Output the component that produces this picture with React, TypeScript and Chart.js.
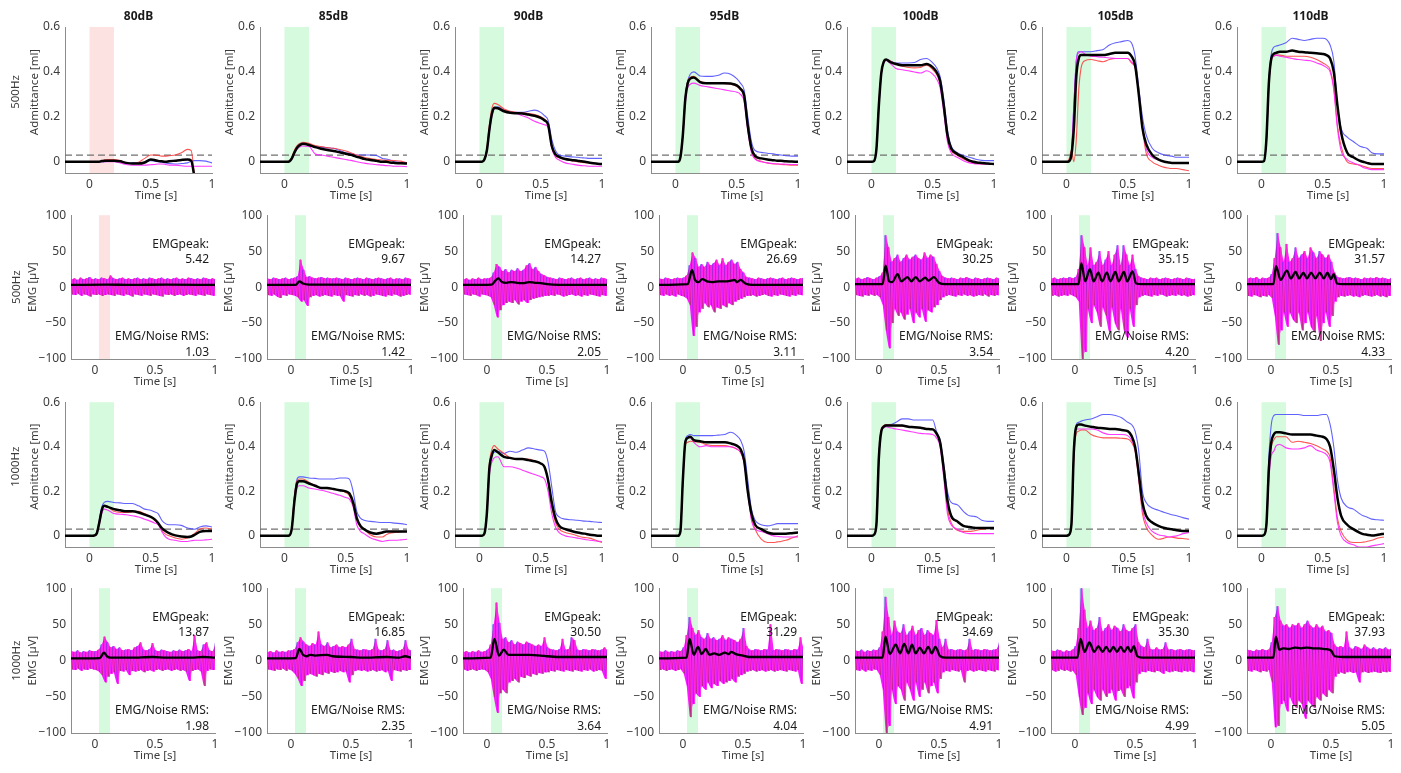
import { useEffect, useRef } from 'react'
import { Chart, registerables } from 'chart.js'

Chart.register(...registerables)
Chart.defaults.font.family = '"Noto Sans", sans-serif'

const levels = ['80dB', '85dB', '90dB', '95dB', '100dB', '105dB', '110dB']
const freqs = ['500Hz', '1000Hz']

// admittance time grid [s]
const admT = [-0.2, 0, 0.02, 0.04, 0.06, 0.08, 0.1, 0.12, 0.15, 0.2, 0.25, 0.3, 0.35, 0.4, 0.45, 0.5, 0.53, 0.56, 0.59, 0.62, 0.65, 0.7, 0.75, 0.8, 0.83, 0.86, 0.9, 0.95, 1]

// 500Hz admittance [ml], one row per level
const adm500Blue = [
  [0,0,0,0,0,0,0,0,0.002,0.003, 0.004,-0.008,-0.005,-0.005,-0.002,0.005,0.003,0,-0.002,-0.005, -0.008,-0.01,-0.008,-0.005,0.002,0.005,0.005,0.003,-0.005],
  [0,0,0,0.002,0.015,0.04,0.06,0.072,0.08,0.075, 0.068,0.065,0.062,0.06,0.05,0.04,0.037,0.035,0.03,0.03, 0.03,0.03,0.028,0.015,0.012,0.008,0,-0.002,-0.005],
  [0,0,0,0.01,0.05,0.14,0.21,0.24,0.245,0.23, 0.22,0.22,0.22,0.225,0.23,0.22,0.205,0.185,0.1,0.05, 0.03,0.025,0.022,0.02,0.018,0.017,0.015,0.015,0.015],
  [0,0,0,0.02,0.12,0.29,0.36,0.39,0.4,0.382, 0.38,0.38,0.385,0.395,0.39,0.37,0.35,0.32,0.2,0.09, 0.05,0.042,0.038,0.035,0.032,0.03,0.027,0.025,0.025],
  [0,0,0.003,0.05,0.24,0.39,0.44,0.455,0.45,0.44, 0.44,0.44,0.442,0.455,0.46,0.44,0.42,0.38,0.28,0.14, 0.07,0.04,0.028,0.02,0.015,0.01,0.006,0.005,0.005],
  [0,0,0.002,0.04,0.25,0.45,0.49,0.49,0.49,0.49, 0.495,0.5,0.52,0.53,0.535,0.54,0.53,0.47,0.33,0.2, 0.12,0.06,0.04,0.03,0.027,0.025,0.02,0.02,0.02],
  [0,0,0.003,0.1,0.36,0.48,0.51,0.515,0.52,0.53, 0.55,0.545,0.54,0.545,0.55,0.55,0.545,0.52,0.45,0.25, 0.15,0.11,0.09,0.07,0.065,0.06,0.04,0.035,0.035],
]
const adm500Red = [
  [0,0,0,0,0,0.002,0.005,0.008,0.01,0.01, 0.005,-0.005,-0.008,-0.002,0.015,0.03,0.03,0.028,0.025,0.025, 0.027,0.03,0.04,0.055,0.05,-0.08,null,null,null],
  [0,0,0,0.003,0.02,0.05,0.07,0.08,0.087,0.082, 0.072,0.068,0.063,0.06,0.055,0.048,0.042,0.036,0.03,0.025, 0.02,0.014,0.01,0.008,0.006,0.006,0.005,0.003,-0.005],
  [0,0,0,0.012,0.06,0.16,0.235,0.26,0.255,0.235, 0.225,0.22,0.218,0.215,0.21,0.2,0.19,0.17,0.07,0.025, 0.018,0.01,0.005,0,-0.002,-0.004,-0.005,-0.008,-0.01],
  [0,0,0,0.02,0.12,0.29,0.36,0.375,0.38,0.358, 0.352,0.35,0.35,0.348,0.345,0.335,0.32,0.29,0.15,0.05, 0.015,0.002,-0.005,-0.01,-0.01,-0.012,-0.013,-0.015,-0.015],
  [0,0,0.004,0.06,0.26,0.4,0.445,0.455,0.45,0.435, 0.425,0.42,0.418,0.42,0.43,0.41,0.39,0.35,0.24,0.1, 0.05,0.03,0.012,0,-0.005,-0.008,-0.01,-0.01,-0.01],
  [0,0,0.01,0.05,0,0.1,0.32,0.42,0.45,0.455, 0.45,0.445,0.455,0.46,0.46,0.46,0.44,0.42,0.3,0.15, 0.04,0,-0.015,-0.025,-0.028,-0.03,-0.03,-0.035,-0.04],
  [0,0,0.003,0.09,0.34,0.45,0.47,0.475,0.475,0.47, 0.47,0.47,0.47,0.465,0.455,0.44,0.43,0.41,0.33,0.16, 0.07,0,-0.01,-0.015,-0.02,-0.025,-0.03,-0.03,-0.03],
]
const adm500Mag = [
  [0,0,0,0,0,0,0,0,0,0, -0.005,-0.012,-0.015,-0.015,-0.015,-0.013,-0.012,-0.01,-0.01,-0.012, -0.015,-0.015,-0.018,-0.02,-0.02,-0.02,-0.02,-0.02,-0.02],
  [0,0,0,0.001,0.01,0.035,0.055,0.065,0.07,0.068, 0.035,0.03,0.025,0.02,0.015,0.01,0.007,0.004,0,-0.003, -0.006,-0.01,-0.013,-0.015,-0.017,-0.018,-0.02,-0.02,-0.022],
  [0,0,0,0.008,0.045,0.13,0.2,0.235,0.24,0.225, 0.22,0.215,0.205,0.195,0.18,0.17,0.165,0.155,0.06,0.02, 0.008,-0.005,-0.01,-0.015,-0.017,-0.018,-0.02,-0.02,-0.02],
  [0,0,0,0.018,0.11,0.26,0.33,0.345,0.35,0.34, 0.335,0.33,0.325,0.32,0.315,0.31,0.3,0.27,0.14,0.04, 0.012,0,-0.005,-0.008,-0.01,-0.01,-0.011,-0.012,-0.012],
  [0,0,0.003,0.055,0.25,0.39,0.44,0.45,0.44,0.415, 0.41,0.405,0.4,0.395,0.405,0.39,0.37,0.33,0.22,0.09, 0.04,0.02,0.005,-0.005,-0.008,-0.01,-0.01,-0.01,-0.01],
  [0,0,0.002,0.04,0.25,0.45,0.485,0.49,0.48,0.47, 0.468,0.465,0.462,0.46,0.46,0.46,0.445,0.42,0.3,0.16, 0.06,0.02,0.008,0,-0.003,-0.005,-0.005,-0.007,-0.008],
  [0,0,0.003,0.09,0.34,0.455,0.47,0.475,0.47,0.465, 0.46,0.455,0.452,0.45,0.44,0.43,0.42,0.4,0.32,0.15, 0.05,0.01,-0.005,-0.015,-0.025,-0.03,-0.035,-0.035,-0.035],
]
const adm500Mean = [
  [0,0,0,0,0,0,0.003,0.004,0.005,0.005, 0.002,-0.005,-0.008,-0.008,-0.003,0.01,0.008,0.004,0.002,0, 0.002,0.005,0.008,0.01,0.005,-0.08,null,null,null],
  [0,0,0,0.002,0.015,0.04,0.06,0.072,0.08,0.075, 0.065,0.058,0.052,0.048,0.042,0.036,0.032,0.028,0.022,0.018, 0.013,0.008,0.004,0,0,-0.003,-0.005,-0.007,-0.008],
  [0,0,0,0.01,0.05,0.14,0.21,0.24,0.238,0.225, 0.218,0.216,0.215,0.21,0.205,0.195,0.185,0.165,0.07,0.033, 0.022,0.012,0.008,0.005,0.002,0,-0.004,-0.008,-0.01],
  [0,0,0,0.02,0.12,0.28,0.35,0.37,0.375,0.355, 0.35,0.35,0.35,0.35,0.348,0.34,0.325,0.295,0.16,0.06, 0.025,0.015,0.01,0.007,0.005,0.004,0.002,0.001,0],
  [0,0,0.003,0.055,0.25,0.395,0.445,0.455,0.445,0.435, 0.43,0.43,0.43,0.43,0.435,0.42,0.4,0.36,0.25,0.12, 0.06,0.035,0.02,0.005,0,-0.003,-0.005,-0.008,-0.01],
  [0,0,0.002,0.03,0.15,0.38,0.46,0.475,0.475,0.475, 0.475,0.475,0.48,0.485,0.485,0.485,0.47,0.43,0.3,0.15, 0.08,0.03,0.01,0,-0.003,-0.005,-0.005,-0.005,-0.005],
  [0,0,0.003,0.1,0.35,0.46,0.48,0.485,0.49,0.49, 0.495,0.49,0.488,0.485,0.483,0.48,0.475,0.46,0.4,0.25, 0.13,0.04,0.02,0.005,0,-0.005,-0.01,-0.01,-0.01],
]

// 1000Hz admittance [ml]
const adm1000Blue = [
  [0,0,0,0.002,0.015,0.07,0.13,0.15,0.155,0.15, 0.148,0.145,0.145,0.135,0.12,0.115,0.108,0.1,0.07,0.055, 0.05,0.05,0.047,0.035,0.032,0.03,0.04,0.045,0.04],
  [0,0,0,0.002,0.04,0.17,0.25,0.265,0.265,0.26, 0.258,0.255,0.255,0.255,0.26,0.26,0.255,0.2,0.11,0.08, 0.07,0.065,0.062,0.06,0.06,0.06,0.057,0.055,0.05],
  [0,0,0,0.01,0.1,0.3,0.36,0.375,0.38,0.37, 0.38,0.375,0.385,0.395,0.39,0.385,0.38,0.33,0.22,0.11, 0.085,0.075,0.072,0.07,0.068,0.066,0.065,0.062,0.06],
  [0,0,0,0.02,0.25,0.43,0.45,0.455,0.45,0.45, 0.45,0.45,0.452,0.455,0.465,0.45,0.43,0.38,0.25,0.12, 0.07,0.05,0.045,0.05,0.055,0.055,0.055,0.055,0.055],
  [0,0,0.005,0.05,0.35,0.47,0.49,0.5,0.5,0.51, 0.525,0.525,0.52,0.52,0.52,0.52,0.47,0.43,0.32,0.2, 0.15,0.14,0.11,0.09,0.088,0.085,0.07,0.065,0.065],
  [0,0,0.005,0.05,0.38,0.5,0.51,0.515,0.52,0.525, 0.535,0.545,0.545,0.54,0.53,0.51,0.5,0.47,0.38,0.2, 0.15,0.125,0.115,0.105,0.1,0.095,0.09,0.082,0.075],
  [0,0,0.005,0.05,0.35,0.5,0.54,0.545,0.545,0.545, 0.545,0.545,0.54,0.54,0.54,0.545,0.545,0.5,0.4,0.25, 0.17,0.13,0.12,0.1,0.09,0.085,0.075,0.072,0.07],
]
const adm1000Red = [
  [0,0,0,0.002,0.012,0.06,0.115,0.135,0.13,0.11, 0.105,0.105,0.108,0.11,0.1,0.085,0.07,0.055,0.025,0.008, 0,-0.01,-0.015,-0.01,0,0.012,0.03,0.035,0.03],
  [0,0,0,0.002,0.04,0.17,0.245,0.255,0.255,0.24, 0.225,0.215,0.212,0.21,0.205,0.195,0.18,0.14,0.07,0.04, 0.03,0.005,-0.005,-0.005,0.005,0.012,0.015,0.018,0.02],
  [0,0,0,0.012,0.11,0.32,0.385,0.405,0.39,0.37, 0.35,0.345,0.345,0.345,0.335,0.325,0.31,0.25,0.13,0.06, 0.03,0.015,0.008,0,-0.005,-0.008,-0.01,-0.02,-0.03],
  [0,0,0,0.02,0.24,0.41,0.42,0.425,0.422,0.42, 0.41,0.405,0.405,0.405,0.4,0.39,0.375,0.33,0.2,0.08, 0.03,-0.015,-0.03,-0.03,-0.027,-0.025,-0.02,-0.01,0],
  [0,0,0.005,0.05,0.35,0.48,0.495,0.5,0.498,0.495, 0.492,0.49,0.487,0.485,0.482,0.48,0.46,0.41,0.28,0.12, 0.06,0.025,0.02,0.02,0.022,0.025,0.03,0.033,0.035],
  [0,0,0.005,0.04,0.35,0.46,0.47,0.475,0.475,0.455, 0.445,0.44,0.44,0.44,0.438,0.435,0.42,0.38,0.25,0.1, 0.04,0.002,-0.015,-0.01,-0.005,-0.006,-0.01,-0.012,-0.015],
  [0,0,0.004,0.04,0.28,0.4,0.43,0.445,0.445,0.445, 0.42,0.425,0.42,0.415,0.405,0.39,0.38,0.35,0.22,0.08, 0.02,-0.02,-0.03,-0.03,-0.028,-0.025,-0.02,-0.01,-0.005],
]
const adm1000Mag = [
  [0,0,0,0.001,0.01,0.05,0.1,0.12,0.115,0.1, 0.097,0.095,0.09,0.085,0.075,0.065,0.058,0.05,0.02,-0.005, -0.015,-0.02,-0.025,-0.025,-0.022,-0.02,-0.02,-0.018,-0.015],
  [0,0,0,0.001,0.035,0.15,0.215,0.225,0.225,0.215, 0.21,0.205,0.198,0.19,0.182,0.172,0.165,0.13,0.05,0.02, 0.01,-0.008,-0.018,-0.025,-0.022,-0.02,-0.02,-0.018,-0.015],
  [0,0,0,0.008,0.09,0.27,0.33,0.35,0.355,0.31, 0.31,0.305,0.295,0.285,0.275,0.265,0.255,0.2,0.1,0.04, 0.015,0,-0.005,-0.01,-0.013,-0.016,-0.02,-0.023,-0.025],
  [0,0,0,0.02,0.25,0.42,0.44,0.44,0.42,0.4, 0.405,0.4,0.4,0.4,0.4,0.39,0.375,0.33,0.2,0.07, 0.03,0.02,0.01,0,-0.002,-0.004,-0.005,-0.005,-0.005],
  [0,0,0.005,0.05,0.34,0.47,0.485,0.49,0.485,0.48, 0.475,0.47,0.465,0.46,0.458,0.455,0.44,0.4,0.26,0.1, 0.05,0.03,0.015,0.01,0.01,0.01,0.01,0.01,0.01],
  [0,0,0.005,0.045,0.37,0.48,0.48,0.48,0.48,0.48, 0.475,0.462,0.455,0.455,0.455,0.45,0.43,0.39,0.26,0.12, 0.06,0.02,0.005,0,-0.005,-0.003,0,0.01,0.015],
  [0,0,0.004,0.04,0.25,0.36,0.38,0.405,0.41,0.395, 0.39,0.39,0.395,0.405,0.385,0.375,0.365,0.33,0.2,0.06, 0,-0.03,-0.04,-0.05,-0.05,-0.05,-0.045,-0.04,-0.035],
]
const adm1000Mean = [
  [0,0,0,0.002,0.012,0.06,0.115,0.135,0.13,0.12, 0.115,0.11,0.11,0.105,0.095,0.085,0.075,0.058,0.035,0.022, 0.012,0.002,-0.003,-0.005,-0.003,0.005,0.018,0.022,0.022],
  [0,0,0,0.002,0.035,0.15,0.23,0.245,0.245,0.235, 0.225,0.215,0.215,0.21,0.205,0.2,0.19,0.15,0.08,0.045, 0.03,0.015,0.01,0.015,0.02,0.02,0.02,0.02,0.02],
  [0,0,0,0.01,0.1,0.3,0.36,0.385,0.375,0.355, 0.35,0.345,0.345,0.34,0.335,0.325,0.31,0.25,0.15,0.08, 0.045,0.03,0.022,0.015,0.012,0.01,0.005,0.002,0],
  [0,0,0,0.02,0.25,0.42,0.44,0.445,0.43,0.425, 0.42,0.42,0.42,0.42,0.415,0.405,0.39,0.34,0.2,0.1, 0.05,0.03,0.015,0.01,0.01,0.01,0.01,0.012,0.015],
  [0,0,0.005,0.05,0.35,0.47,0.49,0.495,0.495,0.495, 0.495,0.49,0.488,0.485,0.48,0.478,0.46,0.42,0.3,0.16, 0.09,0.065,0.045,0.04,0.037,0.035,0.035,0.035,0.035],
  [0,0,0.005,0.05,0.38,0.49,0.5,0.5,0.495,0.49, 0.485,0.483,0.48,0.48,0.475,0.47,0.45,0.4,0.28,0.15, 0.09,0.06,0.045,0.035,0.032,0.03,0.025,0.022,0.022],
  [0,0,0.004,0.05,0.3,0.42,0.455,0.465,0.465,0.46, 0.455,0.455,0.455,0.455,0.45,0.445,0.435,0.4,0.3,0.17, 0.09,0.05,0.03,0.015,0.008,0.005,0.002,0.005,0.01],
]

// EMG envelope time grid [s]
const emgT = [-0.2,-0.175,-0.15,-0.125,-0.1,-0.075,-0.05,-0.025, 0,0.025,0.05,0.075,0.1,0.125,0.15,0.175, 0.2,0.225,0.25,0.275,0.3,0.325,0.35,0.375, 0.4,0.425,0.45,0.475,0.5,0.525,0.55,0.575, 0.6,0.625,0.65,0.675,0.7,0.725,0.75,0.775, 0.8,0.825,0.85,0.875,0.9,0.925,0.95,0.975,1]

// 500Hz EMG upper / lower envelope [µV]
const emg500Up = [
  [11,12,10,13,11,12,14,11, 12,11,13,12,11,16,12,11, 12,13,11,12,11,12,13,11, 12,11,13,12,11,12,13,11, 12,11,12,13,11,12,11,13, 12,11,12,11,13,12,11,12,11],
  [12,11,13,12,11,12,13,11, 12,13,15,38,24,14,15,13, 12,13,14,12,13,12,12,13, 12,11,13,12,11,12,13,12, 11,13,12,11,12,13,12,11, 12,13,11,12,12,11,13,12,11],
  [11,12,10,12,11,13,11,12, 12,13,20,32,28,22,25,20, 24,22,26,22,24,30,33,25, 28,22,18,16,14,13,12,11, 13,12,11,12,13,11,12,13, 11,12,13,11,12,11,13,12,11],
  [12,11,13,12,11,12,13,12, 13,16,30,48,40,28,32,28, 35,30,33,38,30,40,30,35, 38,32,35,25,20,14,13,12, 11,13,12,11,12,13,12,11, 12,13,11,12,13,12,11,12,13],
  [12,13,11,12,14,12,11,13, 15,20,72,55,35,40,45,35, 40,45,38,42,45,40,38,48, 40,45,42,32,22,15,13,12, 13,12,11,13,12,14,12,11, 13,12,11,12,13,12,11,13,12],
  [12,13,11,12,13,12,14,12, 14,25,72,55,30,55,30,35, 50,30,38,50,30,45,58,30, 58,45,30,45,25,15,13,12, 11,13,12,13,11,12,13,12, 11,12,13,12,11,13,12,11,12],
  [12,13,12,14,11,13,12,13, 18,40,75,55,35,60,35,40, 55,40,45,50,40,55,48,40, 50,45,40,45,35,20,14,13, 12,13,14,12,13,12,11,13, 12,13,12,14,12,13,12,11,13],
]
const emg500Lo = [
  [-10,-11,-9,-12,-10,-11,-13,-10, -11,-10,-12,-11,-10,-11,-12,-10, -11,-12,-10,-11,-13,-10,-11,-12, -10,-11,-12,-10,-11,-12,-13,-10, -11,-10,-12,-11,-10,-12,-11,-10, -11,-12,-10,-11,-12,-10,-11,-12,-10],
  [-11,-12,-10,-13,-15,-11,-12,-10, -11,-12,-14,-20,-18,-26,-14,-12, -11,-13,-12,-11,-12,-13,-11,-12, -12,-20,-11,-12,-13,-11,-12,-10, -12,-11,-13,-12,-10,-11,-12,-13, -11,-12,-10,-11,-13,-12,-11,-10,-11],
  [-10,-11,-12,-10,-11,-13,-10,-11, -12,-14,-25,-42,-32,-25,-22,-20, -22,-18,-24,-20,-18,-22,-18,-16, -15,-14,-13,-12,-12,-11,-12,-10, -11,-13,-12,-11,-10,-12,-11,-13, -11,-12,-10,-11,-12,-13,-11,-12,-10],
  [-11,-12,-10,-12,-11,-13,-10,-12, -13,-16,-25,-68,-55,-35,-30,-22, -28,-25,-35,-28,-30,-25,-28,-22, -25,-20,-18,-16,-14,-12,-12,-11, -13,-12,-11,-10,-12,-13,-11,-12, -10,-11,-12,-13,-11,-12,-10,-11,-12],
  [-11,-12,-13,-11,-12,-10,-12,-11, -14,-25,-60,-85,-50,-30,-40,-35, -45,-38,-30,-50,-35,-42,-30,-48, -32,-35,-28,-25,-18,-14,-12,-11, -12,-13,-11,-12,-10,-12,-11,-13, -12,-11,-12,-10,-13,-11,-12,-11,-12],
  [-12,-11,-13,-12,-11,-12,-10,-12, -14,-20,-100,-90,-30,-50,-25,-35, -55,-28,-40,-62,-28,-50,-60,-30, -60,-70,-30,-55,-25,-14,-12,-11, -12,-13,-11,-12,-10,-11,-13,-12, -11,-12,-10,-12,-11,-13,-12,-11,-12],
  [-12,-13,-11,-12,-14,-12,-13,-11, -15,-40,-80,-60,-35,-55,-35,-45, -50,-35,-60,-50,-35,-55,-62,-40, -75,-50,-35,-55,-40,-20,-14,-12, -13,-12,-11,-13,-12,-14,-12,-11, -12,-13,-12,-11,-13,-12,-14,-12,-11],
]
// 500Hz EMG mean trace, [t, µV]
const emg500Mean = [
  [[-0.2,3],[0.1,3.5],[0.3,3],[0.6,3.5],[1,3]],
  [[-0.2,3],[0.04,3],[0.07,8],[0.1,5],[0.15,3.5],[1,3]],
  [[-0.2,3],[0.04,3.5],[0.07,9],[0.095,12],[0.125,7],[0.16,6],[0.2,7],[0.25,6],[0.3,5.5],[0.35,7],[0.4,6],[0.45,5.5],[0.5,4],[0.6,3],[1,3]],
  [[-0.2,3],[0.04,4],[0.075,24],[0.1,10],[0.13,7],[0.16,11],[0.2,8],[0.25,7],[0.3,8],[0.35,8],[0.4,9],[0.43,10],[0.45,7],[0.48,10],[0.52,5],[0.6,3],[1,3]],
  [[-0.2,4],[0.03,4],[0.055,30],[0.085,8],[0.11,7],[0.155,18],[0.185,8],[0.237,14],[0.27,8],[0.306,14],[0.34,8],[0.385,13],[0.415,9],[0.457,14],[0.5,6],[0.55,4],[1,4]],
  [[-0.2,4],[0.03,4],[0.053,33],[0.085,8],[0.124,25],[0.155,8],[0.195,20],[0.225,8],[0.266,20],[0.295,8],[0.337,21],[0.365,8],[0.408,21],[0.435,8],[0.479,22],[0.51,5],[0.56,4],[1,4]],
  [[-0.2,4],[0.02,4],[0.042,29],[0.08,10],[0.133,23],[0.165,12],[0.205,21],[0.235,12],[0.27,20],[0.3,12],[0.334,20],[0.37,12],[0.406,20],[0.44,12],[0.47,20],[0.5,11],[0.523,18],[0.55,5],[0.6,4],[1,4]],
]
const emg500Peak = [5.42, 9.67, 14.27, 26.69, 30.25, 35.15, 31.57]
const emg500Rms = [1.03, 1.42, 2.05, 3.11, 3.54, 4.2, 4.33]

// 1000Hz EMG upper / lower envelope [µV]
const emg1000Up = [
  [13,12,14,11,13,12,14,13, 13,15,22,33,25,18,20,16, 18,14,15,16,14,18,20,25, 15,14,16,24,14,13,15,14, 13,12,14,13,15,13,14,16, 13,35,14,13,22,25,14,13,24],
  [12,13,11,14,12,13,12,14, 14,16,25,32,26,22,20,24, 22,40,22,20,25,18,20,22, 18,20,18,22,30,16,15,14, 16,15,14,16,30,15,14,16, 28,14,15,13,14,16,28,15,14],
  [12,13,11,13,12,14,12,13, 15,22,50,80,52,30,32,25, 28,22,26,24,22,26,24,22, 20,22,20,32,18,16,15,14, 16,30,15,16,32,28,15,14, 16,15,14,16,15,14,15,18,14],
  [13,12,14,12,13,12,14,13, 18,35,60,45,35,42,32,30, 38,30,32,28,30,35,28,32, 30,28,25,30,45,20,15,14, 16,15,14,16,15,50,14,16, 15,14,16,15,14,16,15,32,15],
  [14,13,15,12,14,13,15,14, 18,40,88,60,35,55,40,38, 50,35,40,48,35,42,45,35, 42,38,35,56,30,18,30,15, 16,14,15,16,14,15,30,14, 16,15,14,16,15,14,15,16,25],
  [14,13,15,14,12,14,13,15, 20,45,100,70,45,55,42,45, 60,40,45,50,42,48,45,40, 50,42,40,45,50,25,20,18, 30,16,15,18,15,16,25,15, 16,14,15,16,14,15,16,14,15],
  [15,14,13,15,14,16,14,15, 25,60,75,55,48,50,45,50, 48,52,45,50,55,48,45,50, 45,48,40,42,38,22,18,20, 18,40,18,16,20,18,16,22, 18,16,18,15,17,16,18,15,17],
]
const emg1000Lo = [
  [-12,-13,-11,-14,-12,-13,-11,-12, -13,-15,-20,-30,-22,-18,-16,-32, -14,-15,-13,-20,-14,-15,-14,-13, -16,-14,-13,-15,-13,-12,-14,-13, -12,-14,-13,-12,-14,-13,-15,-28, -14,-13,-12,-15,-35,-14,-12,-13,-12],
  [-12,-13,-14,-12,-13,-11,-14,-12, -14,-18,-25,-35,-28,-20,-18,-20, -22,-18,-20,-16,-18,-15,-17,-16, -14,-16,-15,-30,-20,-14,-13,-14, -13,-15,-14,-13,-15,-14,-13,-16, -14,-28,-13,-14,-15,-13,-14,-13,-12],
  [-12,-14,-13,-12,-14,-13,-12,-13, -16,-25,-50,-72,-45,-40,-45,-30, -28,-25,-30,-22,-24,-20,-22,-18, -20,-17,-18,-16,-16,-14,-15,-13, -14,-15,-13,-14,-15,-13,-14,-15, -13,-14,-12,-15,-14,-13,-14,-25,-13],
  [-13,-12,-14,-13,-12,-14,-13,-12, -18,-35,-78,-60,-45,-50,-35,-40, -30,-38,-32,-35,-28,-32,-30,-28, -25,-30,-22,-20,-18,-15,-14,-13, -15,-14,-13,-15,-14,-13,-15,-14, -13,-14,-15,-13,-14,-15,-13,-32,-14],
  [-13,-14,-12,-15,-13,-14,-12,-13, -20,-40,-100,-90,-40,-60,-35,-40, -55,-30,-40,-55,-30,-50,-40,-30, -45,-35,-30,-45,-25,-16,-14,-15, -13,-14,-15,-13,-30,-14,-13,-15, -14,-13,-14,-15,-13,-14,-15,-13,-14],
  [-13,-15,-14,-12,-14,-13,-15,-14, -20,-50,-75,-65,-45,-60,-40,-50, -55,-40,-50,-45,-40,-55,-42,-40, -50,-38,-35,-52,-30,-18,-15,-16, -14,-15,-16,-14,-15,-18,-14,-16, -15,-14,-15,-16,-14,-15,-14,-16,-14],
  [-14,-15,-13,-14,-16,-14,-15,-13, -30,-92,-90,-60,-55,-70,-50,-60, -65,-55,-60,-80,-55,-60,-65,-50, -55,-45,-50,-40,-45,-22,-18,-16, -18,-16,-15,-17,-16,-30,-16,-15, -17,-16,-15,-16,-17,-15,-16,-15,-16],
]
const emg1000Mean = [
  [[-0.2,3],[0.04,3.5],[0.075,11],[0.1,6],[0.13,4],[0.3,4],[0.48,5],[0.6,4],[0.8,4],[0.9,5],[1,4]],
  [[-0.2,3],[0.04,3.5],[0.07,16],[0.1,8],[0.13,6],[0.16,8],[0.2,7],[0.3,8],[0.35,6],[0.5,5],[0.6,4],[0.8,5],[0.9,4],[0.95,6],[1,4]],
  [[-0.2,3],[0.03,4],[0.062,30],[0.1,7],[0.14,15],[0.18,8],[0.25,8],[0.35,8],[0.45,7],[0.5,6],[0.6,5],[1,5]],
  [[-0.2,3],[0.03,4],[0.055,30],[0.09,8],[0.125,19],[0.155,9],[0.19,16],[0.22,8],[0.26,10],[0.3,8],[0.35,11],[0.38,9],[0.4,12],[0.44,9],[0.5,7],[0.55,5],[1,5]],
  [[-0.2,4],[0.03,4],[0.054,33],[0.09,9],[0.14,22],[0.175,10],[0.21,23],[0.245,10],[0.275,22],[0.305,10],[0.34,18],[0.375,10],[0.41,19],[0.44,10],[0.47,19],[0.51,6],[0.56,4],[1,4]],
  [[-0.2,4],[0.02,4],[0.046,30],[0.08,12],[0.12,25],[0.16,12],[0.195,20],[0.23,12],[0.26,19],[0.29,12],[0.32,19],[0.35,12],[0.38,19],[0.41,12],[0.44,19],[0.465,12],[0.49,20],[0.52,6],[0.56,4],[1,4]],
  [[-0.2,4],[0.02,4],[0.04,33],[0.07,15],[0.1,17],[0.15,16],[0.2,18],[0.25,17],[0.3,18],[0.35,17],[0.4,17],[0.45,16],[0.5,14],[0.53,6],[0.6,5],[1,5]],
]
const emg1000Peak = [13.87, 16.85, 30.5, 31.29, 34.69, 35.3, 37.93]
const emg1000Rms = [1.98, 2.35, 3.64, 4.04, 4.91, 4.99, 5.05]

// stimulus windows [s]
const admWindow = [0, 0.2]
const emgWindow = [0.033, 0.125]
const thresholdMl = 0.03

// panel geometry (plot area in page pixels)
const admLeft = [65, 260, 455, 651, 847, 1042, 1237]
const emgLeft = [71, 267, 463, 659, 855, 1051, 1247]
const rowTop = [27, 213, 400, 586]
const rowHeight = [146, 146, 147, 147]

const AXIS = '#8c8c8c'
const TEXT = '#3c3c3c'
const DARK = '#1a1a1a'
const BLUE = 'rgba(70,70,255,0.85)'
const RED = 'rgba(255,55,55,0.85)'
const MAG = 'rgba(255,40,255,0.92)'
const EMG_BLUE = 'rgba(60,60,255,0.55)'
const EMG_RED = 'rgba(255,30,30,0.6)'
const MAG_FILL = 'rgba(255,0,255,0.9)'
const GREEN_BAND = '#d6fadd'
const RED_BAND = '#fde2e2'

const admSets = [
  { blue: adm500Blue, red: adm500Red, mag: adm500Mag, mean: adm500Mean },
  { blue: adm1000Blue, red: adm1000Red, mag: adm1000Mag, mean: adm1000Mean },
]
const emgSets = [
  { up: emg500Up, lo: emg500Lo, mean: emg500Mean, peak: emg500Peak, rms: emg500Rms },
  { up: emg1000Up, lo: emg1000Lo, mean: emg1000Mean, peak: emg1000Peak, rms: emg1000Rms },
]

function geometry(row: number, col: number) {
  const isAdm = row % 2 === 0
  const yw = isAdm ? 60 : 70
  const padTop = row === 0 ? 26 : 10
  const padRight = 8
  const xh = 30
  const pw = isAdm ? 147 : 144
  const ph = rowHeight[row]
  const left = (isAdm ? admLeft : emgLeft)[col] - yw
  return { isAdm, yw, padTop, padRight, xh, left, top: rowTop[row] - padTop, w: yw + pw + padRight, h: padTop + ph + xh }
}

const admPoints = (ys: (number | null)[]) => admT.map((t, i) => ({ x: t, y: ys[i] }))
const emgPoints = (ys: number[], dx: number) => emgT.map((t, i) => ({ x: t + dx, y: ys[i] }))

// each envelope sample drawn as one up/down stroke
const zigzag = (ups: number[], los: number[], dx: number) => {
  const out: { x: number; y: number }[] = []
  emgT.forEach((t, i) => {
    out.push({ x: t + dx, y: ups[i] })
    out.push({ x: t + dx + 0.0125, y: los[i] })
  })
  return out
}

function buildConfig(row: number, col: number): any {
  const g = geometry(row, col)
  const f = row < 2 ? 0 : 1
  const band = g.isAdm ? admWindow : emgWindow
  const bandColor = f === 0 && col === 0 ? RED_BAND : GREEN_BAND
  const yTitle = g.isAdm ? 'Admittance [ml]' : 'EMG [µV]'

  let datasets: any[]
  if (g.isAdm) {
    const s = admSets[f]
    datasets = [
      { data: admPoints(s.mean[col]), borderColor: '#000', borderWidth: 2.5, cubicInterpolationMode: 'monotone' },
      { data: admPoints(s.mag[col]), borderColor: MAG, borderWidth: 1.1, cubicInterpolationMode: 'monotone' },
      { data: admPoints(s.red[col]), borderColor: RED, borderWidth: 1.1, cubicInterpolationMode: 'monotone' },
      { data: admPoints(s.blue[col]), borderColor: BLUE, borderWidth: 1.1, cubicInterpolationMode: 'monotone' },
      { data: [{ x: -0.2, y: thresholdMl }, { x: 1, y: thresholdMl }], borderColor: '#707070', borderWidth: 1.2, borderDash: [7, 4] },
    ]
  } else {
    const s = emgSets[f]
    datasets = [
      { data: s.mean[col].map(([x, y]) => ({ x, y })), borderColor: '#000', borderWidth: 2.3, cubicInterpolationMode: 'monotone' },
      { data: zigzag(s.up[col], s.lo[col], 0.008), borderColor: MAG, borderWidth: 1 },
      { data: zigzag(s.up[col], s.lo[col], 0.004), borderColor: EMG_RED, borderWidth: 1 },
      { data: zigzag(s.up[col], s.lo[col], 0), borderColor: EMG_BLUE, borderWidth: 1 },
      { data: emgPoints(s.up[col], 0.006), borderWidth: 0, backgroundColor: MAG_FILL, fill: '+1' },
      { data: emgPoints(s.lo[col], 0.006), borderWidth: 0 },
    ]
  }
  datasets.forEach((d) => {
    d.pointRadius = 0
    if (d.fill === undefined) d.fill = false
    d.spanGaps = false
  })

  const decor = {
    id: 'decor',
    beforeDraw(chart: any) {
      const { ctx, chartArea: a, scales } = chart
      const x0 = scales.x.getPixelForValue(band[0])
      const x1 = scales.x.getPixelForValue(band[1])
      ctx.save()
      ctx.fillStyle = bandColor
      ctx.fillRect(x0, a.top, x1 - x0, a.bottom - a.top)
      ctx.restore()
    },
    afterDraw(chart: any) {
      const { ctx, chartArea: a, scales } = chart
      ctx.save()
      ctx.textAlign = 'center'
      ctx.textBaseline = 'middle'
      ctx.fillStyle = TEXT
      ctx.font = '11.5px "Noto Sans"'
      ctx.fillText('Time [s]', a.left + (g.isAdm ? 91 : 84), a.bottom + 23)

      const cy = (a.top + a.bottom) / 2 + (g.isAdm ? -8 : 0)
      const inner = a.left - (g.isAdm ? 30 : 38)
      const gap = g.isAdm ? 19 : 16.5
      const lines = col === 0 ? [freqs[f], yTitle] : [yTitle]
      lines.forEach((txt, i) => {
        ctx.save()
        ctx.translate(inner - gap * (lines.length - 1 - i), cy)
        ctx.rotate(-Math.PI / 2)
        ctx.fillText(txt, 0, 0)
        ctx.restore()
      })

      if (row === 0) {
        ctx.fillStyle = DARK
        ctx.font = 'bold 12px "Noto Sans"'
        ctx.fillText(levels[col], (a.left + a.right) / 2, a.top - 10)
      }
      if (!g.isAdm) {
        const s = emgSets[f]
        const y = scales.y
        const xr = a.right - 6
        ctx.fillStyle = DARK
        ctx.textAlign = 'right'
        ctx.font = '12px "Noto Sans"'
        ctx.fillText('EMGpeak:', xr, y.getPixelForValue(59.5))
        ctx.fillText(s.peak[col].toFixed(2), xr, y.getPixelForValue(38.5))
        ctx.fillText('EMG/Noise RMS:', xr, y.getPixelForValue(-69.5))
        ctx.fillText(s.rms[col].toFixed(2), xr, y.getPixelForValue(-90.5))
      }
      ctx.restore()
    },
  }

  const tickFont = { size: 12 }
  return {
    type: 'line',
    data: { datasets },
    plugins: [decor],
    options: {
      responsive: false,
      animation: false,
      events: [],
      layout: { padding: { top: g.padTop, right: g.padRight, bottom: 0, left: 0 } },
      plugins: { legend: { display: false }, tooltip: { enabled: false } },
      scales: {
        x: {
          type: 'linear',
          min: -0.2,
          max: 1,
          afterBuildTicks: (s: any) => {
            s.ticks = [0, 0.5, 1].map((value) => ({ value }))
          },
          afterFit: (s: any) => {
            s.height = g.xh
          },
          grid: { display: false, drawTicks: false },
          border: { display: true, color: AXIS, width: 1 },
          ticks: { color: TEXT, font: tickFont, padding: 4, maxRotation: 0, callback: (v: number) => String(v) },
        },
        y: {
          type: 'linear',
          min: g.isAdm ? -0.05 : -100,
          max: g.isAdm ? 0.6 : 100,
          afterBuildTicks: (s: any) => {
            const vals = g.isAdm ? [0, 0.2, 0.4, 0.6] : [-100, -50, 0, 50, 100]
            s.ticks = vals.map((value) => ({ value }))
          },
          afterFit: (s: any) => {
            s.width = g.yw
          },
          grid: { display: false, drawTicks: false },
          border: { display: true, color: AXIS, width: 1 },
          ticks: {
            color: TEXT,
            font: tickFont,
            padding: 5,
            callback: (v: number) => (v < 0 ? '\u2212' + Math.abs(v) : String(v)),
          },
        },
      },
    },
  }
}

type PanelProps = { row: number; col: number }

function Panel({ row, col }: PanelProps) {
  const canvasRef = useRef<HTMLCanvasElement | null>(null)
  const g = geometry(row, col)

  useEffect(() => {
    const ctx = canvasRef.current?.getContext('2d')
    if (!ctx) return
    const chart = new Chart(ctx, buildConfig(row, col))
    return () => chart.destroy()
  }, [row, col])

  return (
    <canvas
      ref={canvasRef}
      width={g.w}
      height={g.h}
      style={{ position: 'absolute', left: g.left, top: g.top, width: g.w, height: g.h }}
    />
  )
}

export default function App() {
  const rows = [0, 1, 2, 3]
  const cols = [0, 1, 2, 3, 4, 5, 6]
  return (
    <div style={{ position: 'absolute', left: 0, top: 0, width: 1401, height: 773, background: '#fff', overflow: 'hidden' }}>
      {rows.map((r) => cols.map((c) => <Panel key={`${r}-${c}`} row={r} col={c} />))}
    </div>
  )
}
